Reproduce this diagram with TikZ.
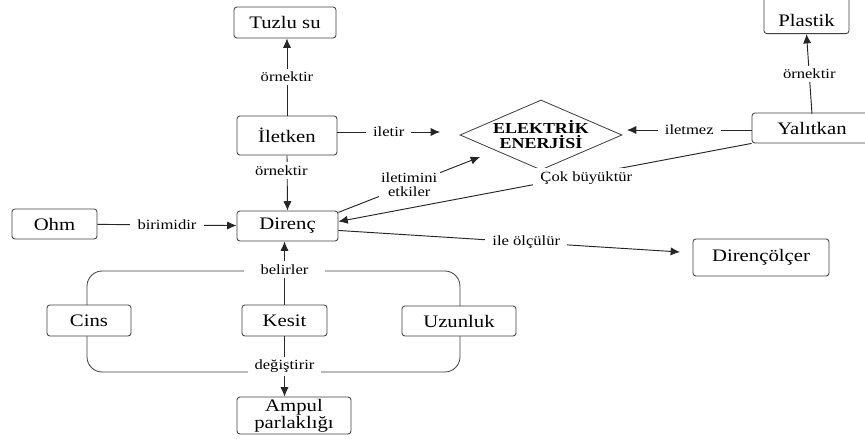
\documentclass[tikz,border=0pt]{standalone}
\usepackage{fontspec}
\usepackage{graphicx}
\setmainfont{Liberation Serif}
\newcommand{\sx}[1]{\scalebox{1.18}[1]{#1}}
\usetikzlibrary{shapes.geometric,arrows.meta}
\begin{document}
\begin{tikzpicture}[x=0.03cm,y=-0.03cm,
 box/.style={draw=black!75, rounded corners=2.5pt, fill=white, font=\fontsize{15}{16}\selectfont, inner sep=0pt, line width=0.7pt},
 lbl/.style={fill=white, font=\fontsize{12}{12}\selectfont, inner xsep=6pt, inner ysep=3pt},
 conn/.style={line width=0.8pt, draw=black!85},
 arr/.style={conn, -{Latex[length=8pt,width=7pt]}}]
\clip (0,0) rectangle (865,438);
\useasboundingbox (0,0) rectangle (865,438);
\fill[white] (0,0) rectangle (865,438);

% loop around the three factors
\draw[line width=0.7pt, draw=black!75, rounded corners=13pt] (87,271) rectangle (460,372);

% nodes
\node[box, minimum width=3.06cm, minimum height=0.93cm] (tuzlu) at (285,22.5) {\sx{Tuzlu su}};
\node[box, minimum width=3.0cm, minimum height=1.17cm] (iletken) at (287,135.5) {\sx{İletken}};
\node[box, minimum width=3.03cm, minimum height=0.9cm] (direnc) at (287.5,226) {\sx{Direnç}};
\node[box, minimum width=2.55cm, minimum height=0.9cm] (ohm) at (54.5,224) {\sx{Ohm}};
\node[box, minimum width=2.52cm, minimum height=0.93cm] (cins) at (89,320.5) {\sx{Cins}};
\node[box, minimum width=2.55cm, minimum height=0.93cm] (kesit) at (284.5,320.5) {\sx{Kesit}};
\node[box, minimum width=3.42cm, minimum height=0.9cm] (uzunluk) at (459,321) {\sx{Uzunluk}};
\node[box, minimum width=3.42cm, minimum height=1.11cm, align=center, font=\fontsize{15}{13.6}\selectfont] (ampul) at (294,415.5) {\sx{Ampul}\\\sx{parlaklığı}};
\node[box, minimum width=4.08cm, minimum height=1.11cm] (olcer) at (761,257.5) {\sx{Dirençölçer}};
\node[box, minimum width=2.55cm, text height=0.99cm, text depth=0.21cm, anchor=south] (plastik) at (806.5,34) {\sx{Plastik}};
\node[box, minimum width=3.6cm, minimum height=0.9cm] (yalitkan) at (812,128) {\sx{Yalıtkan}};
\node[draw=black!75, line width=0.7pt, diamond, shape aspect=2.3, inner sep=0pt, minimum width=4.86cm, minimum height=2.1cm, align=center, font=\bfseries\fontsize{13}{12.8}\selectfont] (enerji) at (541,135) {\sx{ELEKTRİK}\\\sx{ENERJİSİ}};

% free ends
\coordinate (iletirEnd) at (440,132);
\coordinate (iletmezEnd) at (627,130);
\coordinate (etkEnd) at (480,157);
\coordinate (olcEnd) at (680,252);

% connectors
\draw[arr] (iletken.north) -- node[lbl]{\sx{örnektir}} (iletken.north |- tuzlu.south);
\draw[arr] (iletken.south) -- node[lbl,pos=0.27,xshift=-5pt]{\sx{örnektir}} (direnc.north);
\draw[arr] (iletken.east |- iletirEnd) -- node[lbl]{\sx{iletir}} (iletirEnd);
\draw[arr] (yalitkan.west |- iletmezEnd) -- node[lbl]{\sx{iletmez}} (iletmezEnd);
\draw[arr] (yalitkan.north |- plastik.south) ++(0,80) -- node[lbl]{\sx{örnektir}} (plastik.south);
\draw[arr] (yalitkan.south west) -- node[lbl, pos=0.4, yshift=-3pt]{\sx{Çok büyüktür}} (direnc.5);
\draw[arr] (direnc.15) -- node[lbl, align=center, inner sep=2pt]{\sx{iletimini}\\\sx{etkiler}} (etkEnd);
\draw[arr] (ohm) -- node[lbl]{\sx{birimidir}} (direnc);
\draw[arr] (direnc.-5) -- node[lbl, pos=0.55]{\sx{ile ölçülür}} (olcEnd);
\draw[arr] (kesit.north) -- node[lbl, pos=0.55, inner xsep=14pt]{\sx{belirler}} (kesit.north |- direnc.south);
\draw[arr] (kesit.south) -- node[lbl]{\sx{değiştirir}} (kesit.south |- ampul.north);
\end{tikzpicture}
\end{document}
